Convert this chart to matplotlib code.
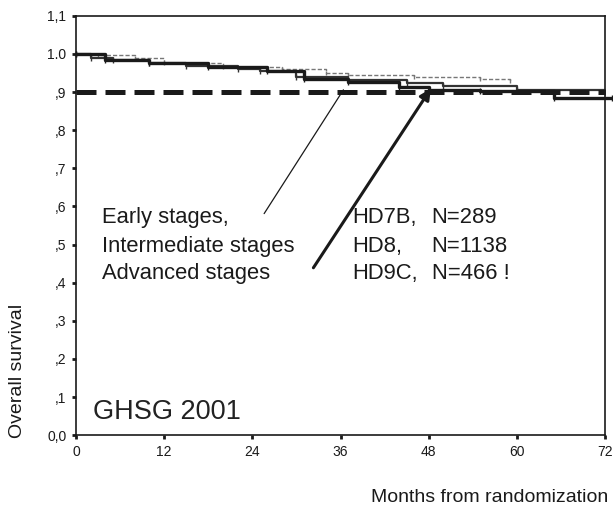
import matplotlib
matplotlib.use("Agg")
import matplotlib.pyplot as plt

plt.rcParams["font.family"] = ["Liberation Sans", "DejaVu Sans"]

# ====== data ======
early_t = [0, 3, 8, 12, 20, 28, 34, 37, 46, 55, 59]
early_s = [1.0, 0.997, 0.99, 0.975, 0.965, 0.96, 0.95, 0.945, 0.94, 0.935, 0.93]

inter_t = [0, 2, 5, 10, 15, 22, 25, 30, 37, 45, 50, 60, 72]
inter_s = [1.0, 0.99, 0.985, 0.975, 0.968, 0.96, 0.955, 0.94, 0.932, 0.925, 0.915, 0.905, 0.90]

adv_t = [0, 4, 10, 18, 26, 31, 37, 44, 48, 55, 65, 73]
adv_s = [1.0, 0.985, 0.975, 0.965, 0.955, 0.935, 0.927, 0.912, 0.906, 0.903, 0.885, 0.885]

ref_level = 0.9

legend_names = ["Early stages,", "Intermediate stages", "Advanced stages"]
legend_trials = ["HD7B,", "HD8,", "HD9C,"]
legend_n = ["N=289", "N=1138", "N=466 !"]

x_ticks = [0, 12, 24, 36, 48, 60, 72]
y_ticks = [0.0, 0.1, 0.2, 0.3, 0.4, 0.5, 0.6, 0.7, 0.8, 0.9, 1.0, 1.1]
y_tick_labels = ["0,0", ",1", ",2", ",3", ",4", ",5", ",6", ",7", ",8", ",9", "1.0", "1,1"]

# ====== figure ======
fig = plt.figure(figsize=(6.13, 5.09), dpi=100)
ax = fig.add_axes([0.124, 0.145, 0.863, 0.824])

ink = "#1a1a1a"

# survival curves
ax.step(early_t, early_s, where="post", color="#777777", lw=1.0,
        linestyle=(0, (3, 1.5)), marker="|", markersize=3, clip_on=False)
ax.step(inter_t, inter_s, where="post", color="#333333", lw=1.6,
        marker="|", markersize=4)
ax.step(adv_t, adv_s, where="post", color=ink, lw=2.4,
        marker="|", markersize=4, clip_on=False)

# 90% reference line
ax.axhline(ref_level, xmin=0, xmax=1, color=ink, lw=3.6, linestyle=(0, (4, 1.8)))

# pointer lines
ax.annotate("", xy=(36.6, 0.912), xytext=(25.4, 0.575),
            arrowprops=dict(arrowstyle="-", color=ink, lw=0.9))
ax.annotate("", xy=(48.5, 0.915), xytext=(32.1, 0.433),
            arrowprops=dict(arrowstyle="-|>", color=ink, lw=2.2, mutation_scale=16))

# legend text block
row_y = [0.570, 0.494, 0.423]
for i in range(3):
    ax.text(3.5, row_y[i], legend_names[i], fontsize=15.8, color=ink, va="center")
    ax.text(37.6, row_y[i], legend_trials[i], fontsize=15.8, color=ink, va="center")
    ax.text(48.4, row_y[i], legend_n[i], fontsize=15.8, color=ink, va="center")

ax.text(2.3, 0.062, "GHSG 2001", fontsize=19.5, color="#222222", va="center")

# axes
ax.set_xlim(0, 72)
ax.set_ylim(0, 1.1)
ax.set_xticks(x_ticks)
ax.set_xticklabels([str(t) for t in x_ticks])
ax.set_yticks(y_ticks)
ax.set_yticklabels(y_tick_labels)
ax.tick_params(direction="out", length=3, width=2, labelsize=10, colors=ink, pad=4)
for s in ax.spines.values():
    s.set_linewidth(1.2)
    s.set_color(ink)

fig.text(0.029, 0.272, "Overall survival", rotation=90, fontsize=14,
         ha="center", va="center", color=ink)
fig.text(0.992, 0.022, "Months from randomization", fontsize=14,
         ha="right", va="center", color=ink)

fig.savefig("out.png", dpi=100)
